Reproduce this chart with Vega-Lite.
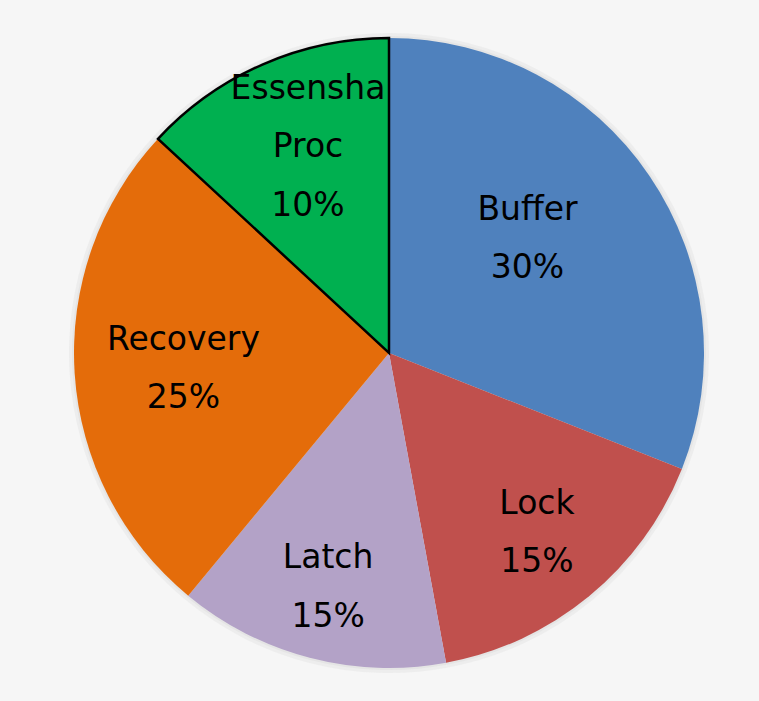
{
  "$schema": "https://vega.github.io/schema/vega-lite/v6.json",
  "width": 759,
  "height": 701,
  "autosize": {"type": "fit", "contains": "padding"},
  "padding": {"left": 19, "top": 5, "right": 0, "bottom": 0},
  "background": "#f6f6f6",
  "config": {"view": {"stroke": null}},
  "data": {
    "values": [
      {"i": 1, "name": "Buffer", "share": 31, "label": "Buffer\n30%"},
      {"i": 2, "name": "Lock", "share": 16.1, "label": "Lock\n15%"},
      {"i": 3, "name": "Latch", "share": 13.9, "label": "Latch\n15%"},
      {"i": 4, "name": "Recovery", "share": 25.9, "label": "Recovery\n25%"},
      {"i": 5, "name": "Essensha Proc", "share": 13.1, "label": "Essensha\nProc\n10%"}
    ]
  },
  "encoding": {
    "theta": {"field": "share", "type": "quantitative", "stack": true},
    "order": {"field": "i", "type": "quantitative"}
  },
  "layer": [
    {
      "mark": {"type": "arc", "outerRadius": 320, "color": "#ebebeb", "opacity": 0.8}
    },
    {
      "mark": {"type": "arc", "outerRadius": 317, "color": "#e0e0e0", "opacity": 0.6}
    },
    {
      "mark": {"type": "arc", "outerRadius": 315},
      "encoding": {
        "color": {
          "field": "name",
          "type": "nominal",
          "scale": {
            "domain": ["Buffer", "Lock", "Latch", "Recovery", "Essensha Proc"],
            "range": ["#4f81bd", "#c0504d", "#b3a2c7", "#e46c0a", "#00b050"]
          },
          "legend": null
        },
        "stroke": {
          "condition": {"test": "datum.name === 'Essensha Proc'", "value": "#000000"},
          "value": null
        },
        "strokeWidth": {
          "condition": {"test": "datum.name === 'Essensha Proc'", "value": 2.5},
          "value": 0
        }
      }
    },
    {
      "mark": {
        "type": "text",
        "radius": {"expr": "datum.name === 'Buffer' ? 182 : datum.name === 'Recovery' ? 206 : datum.name === 'Essensha Proc' ? 225 : datum.name === 'Latch' ? 242 : 233"},
        "dx": {"expr": "datum.name === 'Buffer' ? -12 : datum.name === 'Essensha Proc' ? 9 : 0"},
        "dy": {"expr": "datum.name === 'Essensha Proc' ? -58 : datum.name === 'Buffer' ? -41 : datum.name === 'Recovery' ? -27 : -29"},
        "font": "DejaVu Sans", "fontSize": 33, "lineHeight": 58.5, "lineBreak": "\n",
        "align": "center", "baseline": "middle", "color": "#000000"
      },
      "encoding": {"text": {"field": "label", "type": "nominal"}}
    }
  ]
}
